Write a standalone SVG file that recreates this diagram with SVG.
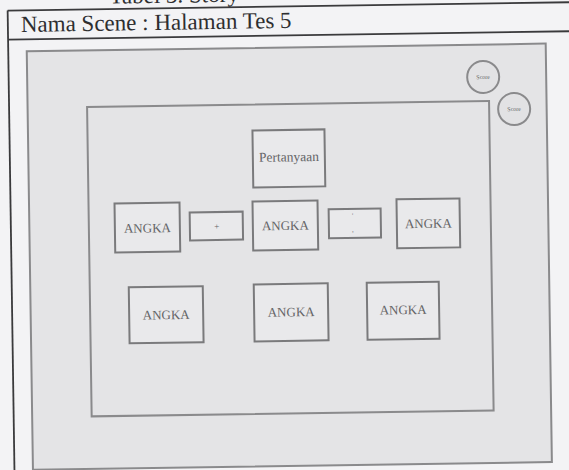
<svg xmlns="http://www.w3.org/2000/svg" width="569" height="470" viewBox="0 0 569 470">
<style>
.tline{stroke:#3a3a3c;stroke-width:1.8;fill:none}
.frame{fill:#e4e4e6;stroke:#8a8a8c;stroke-width:2}
.box{fill:#e9e9eb;stroke:#7a7a7c;stroke-width:2}
.lbl{font-family:"Liberation Serif","Times New Roman",serif;fill:#656567;text-anchor:middle;dominant-baseline:central}
.hdr{font-family:"Liberation Serif","Times New Roman",serif;fill:#2e2e30;font-size:23px}
.circ{fill:#e2e2e4;stroke:#8a8a8c;stroke-width:2}
</style>
<rect x="0" y="0" width="569" height="470" fill="#f3f3f5"/>
<g transform="rotate(-0.85 284 235)">
  <g id="table">
    <line class="tline" x1="11" y1="6.5" x2="620" y2="6.5"/>
    <line class="tline" x1="11" y1="35.5" x2="620" y2="35.5"/>
    <line class="tline" x1="11" y1="6.5" x2="11" y2="520"/>
    <text class="hdr" x="113" y="1">Tabel 3. Story</text>
    <text class="hdr" x="24" y="28">Nama Scene : Halaman Tes 5</text>
  </g>
  <g id="outer-frame">
    <rect class="frame" x="29.5" y="47.5" width="519" height="418.5"/>
  </g>
  <g id="inner-frame">
    <rect class="frame" x="89" y="104" width="402" height="309.5"/>
  </g>
  <g id="score1">
    <circle class="circ" cx="485.5" cy="80" r="16"/>
    <text class="lbl" x="485.5" y="80" font-size="6">Score</text>
  </g>
  <g id="score2">
    <circle class="circ" cx="516" cy="112.5" r="16"/>
    <text class="lbl" x="516" y="112.5" font-size="6">Score</text>
  </g>
  <g id="pertanyaan">
    <rect class="box" x="254" y="130" width="72" height="57"/>
    <text class="lbl" x="290" y="157" font-size="13.5">Pertanyaan</text>
  </g>
  <g id="angka1">
    <rect class="box" x="115" y="201" width="65" height="49"/>
    <text class="lbl" x="147.5" y="226" font-size="13">ANGKA</text>
  </g>
  <g id="plus">
    <rect class="box" x="190" y="211" width="53" height="28"/>
    <text class="lbl" x="217" y="225.5" font-size="9">+</text>
  </g>
  <g id="angka2">
    <rect class="box" x="253" y="201" width="65" height="49"/>
    <text class="lbl" x="285.5" y="225.5" font-size="13">ANGKA</text>
  </g>
  <g id="minus">
    <rect class="box" x="329" y="210" width="52" height="29"/>
    <text class="lbl" x="353" y="217" font-size="7">'</text>
    <text class="lbl" x="353" y="231" font-size="7">,</text>
  </g>
  <g id="angka3">
    <rect class="box" x="397" y="201" width="63" height="49"/>
    <text class="lbl" x="428.5" y="225.5" font-size="13">ANGKA</text>
  </g>
  <g id="angka4">
    <rect class="box" x="128" y="285" width="74" height="56"/>
    <text class="lbl" x="165" y="313" font-size="13">ANGKA</text>
  </g>
  <g id="angka5">
    <rect class="box" x="253" y="284" width="74" height="57"/>
    <text class="lbl" x="290" y="312" font-size="13">ANGKA</text>
  </g>
  <g id="angka6">
    <rect class="box" x="366" y="284" width="72" height="57"/>
    <text class="lbl" x="402" y="311.5" font-size="13">ANGKA</text>
  </g>
  <g id="connectors"></g>
</g>
</svg>
